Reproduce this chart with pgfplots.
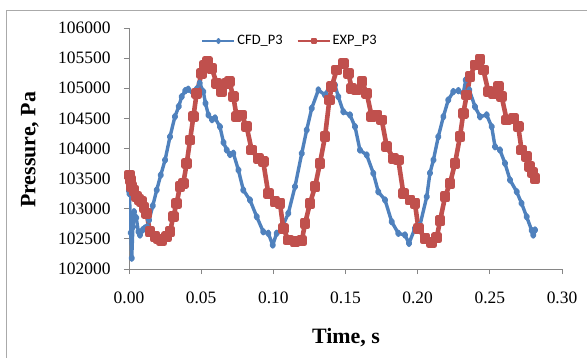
\documentclass[border=0pt]{standalone}
\usepackage{pgfplots}
\pgfplotsset{compat=1.18}
\usepackage{fontspec}
\setmainfont{Liberation Serif}
\newfontfamily\legendfont{Carlito}
\definecolor{cfdblue}{RGB}{79,129,189}
\definecolor{expred}{RGB}{192,80,77}
\definecolor{axgray}{RGB}{134,134,134}
\definecolor{framegray}{RGB}{170,170,170}
\begin{document}
\begin{tikzpicture}
\useasboundingbox (0,0) rectangle (587bp,358bp);
\draw[framegray, line width=1bp] (6bp,-2bp) -- (6bp,347bp) -- (590bp,347bp);
\begin{axis}[
  at={(129bp,89bp)}, anchor=south west,
  scale only axis, width=433bp, height=241bp,
  xmin=0, xmax=0.30, ymin=102000, ymax=106000,
  axis lines*=left,
  axis line style={axgray, line width=1bp, -},
  xtick={0,0.05,0.10,0.15,0.20,0.25,0.30},
  ytick={102000,102500,...,106000},
  tick align=outside, major tick length=5bp,
  tick style={axgray, line width=1bp},
  /pgf/number format/assume math mode=true,
  /pgf/number format/1000 sep={},
  xticklabel style={/pgf/number format/fixed, /pgf/number format/fixed zerofill, /pgf/number format/precision=2, yshift=-14bp},
  yticklabel style={/pgf/number format/fixed, /pgf/number format/precision=0, xshift=-10bp},
  scaled x ticks=false, scaled y ticks=false,
  tick label style={font=\fontsize{17.5}{20}\selectfont},
  xlabel={\textbf{Time, s}}, ylabel={\textbf{Pressure, Pa}},
  label style={font=\fontsize{22}{24}\selectfont},
  xlabel style={at={(axis description cs:0.501,-0.285)}, anchor=center},
  ylabel style={at={(axis description cs:-0.2286,0.494)}, anchor=center, rotate=0},
  legend columns=2,
  legend style={draw=none, fill=none, font=\legendfont\fontsize{14.5}{16}\selectfont,
    at={(0.372,0.946)}, anchor=center,
    /tikz/every even column/.append style={column sep=12bp}},
  legend image code/.code={\draw[mark repeat=2,mark phase=2,#1, line width=2bp, mark size=2bp] plot coordinates {(0bp,0bp) (16bp,0bp) (32bp,0bp)};},
]
\addplot[cfdblue, line width=3.4bp, line join=round, mark=diamond*, mark size=2bp, mark options={solid}] coordinates {
(0.0000,103300)(0.0003,103250)(0.0012,102600)(0.0019,102180)(0.0027,102700)(0.0035,102950)
(0.0050,102850)(0.0065,102620)(0.0076,102564)(0.0095,102650)(0.0110,102680)(0.0125,102700)
(0.0139,102813)(0.0165,103050)(0.0192,103311)(0.0220,103560)(0.0250,103809)(0.0284,104196)
(0.0318,104528)(0.0345,104700)(0.0365,104860)(0.0390,104960)(0.0410,104983)(0.0450,104888)
(0.0470,104990)(0.0490,105083)(0.0515,104944)(0.0530,104750)(0.0550,104557)(0.0575,104480)
(0.0596,104507)(0.0630,104362)(0.0655,104100)(0.0677,103975)(0.0700,103900)(0.0723,103920)
(0.0758,103643)(0.0792,103311)(0.0838,103145)(0.0885,102868)(0.0930,102619)(0.0965,102592)
(0.0996,102398)(0.1023,102592)(0.1058,102675)(0.1104,102925)(0.1150,103367)(0.1197,103920)
(0.1231,104307)(0.1266,104667)(0.1312,104971)(0.1358,104888)(0.1393,105054)(0.1427,105054)
(0.1450,104860)(0.1485,104611)(0.1531,104557)(0.1566,104362)(0.1600,103975)(0.1647,103892)
(0.1693,103588)(0.1727,103283)(0.1774,103145)(0.1820,102785)(0.1866,102592)(0.1912,102564)
(0.1940,102426)(0.1981,102675)(0.2016,102730)(0.2063,103200)(0.2085,103593)(0.2109,103809)
(0.2143,104196)(0.2178,104528)(0.2212,104805)(0.2247,104944)(0.2282,104960)(0.2316,104916)
(0.2333,105137)(0.2358,104971)(0.2397,104694)(0.2432,104528)(0.2478,104557)(0.2513,104362)
(0.2536,104030)(0.2570,103975)(0.2605,103754)(0.2640,103477)(0.2686,103283)(0.2720,103090)
(0.2755,102868)(0.2790,102640)(0.2801,102564)(0.2813,102647)
};
\addlegendentry{CFD\_P3}
\addplot[expred, line width=4.6bp, line join=round, mark=square*, mark size=3bp, mark options={solid}] coordinates {
(0.0003,103560)(0.0010,103480)(0.0018,103366)(0.0035,103300)(0.0053,103200)(0.0070,103150)
(0.0088,103117)(0.0105,103020)(0.0122,102925)(0.0145,102619)(0.0180,102536)(0.0205,102500)
(0.0226,102470)(0.0261,102536)(0.0284,102619)(0.0307,102868)(0.0330,103090)(0.0353,103366)
(0.0376,103422)(0.0400,103754)(0.0423,104141)(0.0446,104528)(0.0469,104916)(0.0503,105248)
(0.0525,105380)(0.0543,105441)(0.0573,105331)(0.0608,105083)(0.0642,104944)(0.0677,105083)
(0.0695,105110)(0.0723,104860)(0.0746,104528)(0.0780,104557)(0.0815,104362)(0.0850,103975)
(0.0896,103837)(0.0930,103781)(0.0965,103256)(0.1011,103117)(0.1046,103090)(0.1069,102675)
(0.1104,102481)(0.1150,102453)(0.1197,102470)(0.1220,102758)(0.1254,103090)(0.1289,103366)
(0.1323,103754)(0.1358,104196)(0.1388,104805)(0.1404,105027)(0.1439,105303)(0.1485,105414)
(0.1520,105248)(0.1543,104999)(0.1578,104971)(0.1613,105110)(0.1647,104916)(0.1682,104528)
(0.1716,104557)(0.1751,104474)(0.1786,104030)(0.1832,103837)(0.1866,103809)(0.1901,103256)
(0.1947,103145)(0.1981,103090)(0.2005,102675)(0.2051,102509)(0.2097,102440)(0.2132,102520)
(0.2155,102800)(0.2190,103200)(0.2224,103422)(0.2259,103754)(0.2293,104196)(0.2316,104584)
(0.2340,104888)(0.2363,105192)(0.2397,105386)(0.2432,105480)(0.2455,105303)(0.2490,104944)
(0.2524,104916)(0.2559,105027)(0.2582,104860)(0.2617,104474)(0.2663,104501)(0.2697,104362)
(0.2720,103975)(0.2755,103864)(0.2775,103700)(0.2795,103600)(0.2813,103505)
};
\addlegendentry{EXP\_P3}
\end{axis}
\end{tikzpicture}
\end{document}
